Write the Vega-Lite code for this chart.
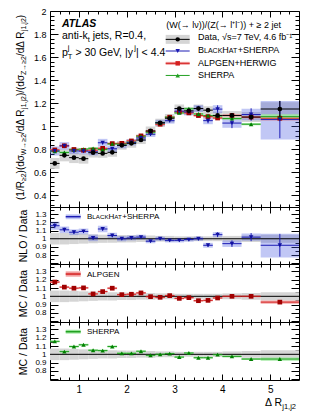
{
"$schema":"https://vega.github.io/schema/vega-lite/v6.json",
"background":"white",
"padding":{"left":15,"top":6,"right":2,"bottom":0},
"spacing":0,
"bounds":"flush",
"datasets":{"bins":[
{"x":0.5,"x0":0.4,"x1":0.6,"d":0.678,"dlo":0.631,"dhi":0.725,"del":0.666,"deh":0.690,"slo":0.93,"shi":1.07,"bh":0.786,"bhbl":0.747,"bhbh":0.825,"bhel":0.766,"bheh":0.806,"alp":0.795,"alpl":0.785,"alph":0.805,"sh":0.784,"shl":0.774,"shh":0.794,"bhr":1.16,"bhrbl":1.11,"bhrbh":1.21,"bhrel":1.13,"bhreh":1.19,"alpr":1.172,"alprl":1.160,"alprh":1.184,"shr":1.156,"shrl":1.144,"shrh":1.168},
{"x":0.7,"x0":0.6,"x1":0.8,"d":0.748,"dlo":0.696,"dhi":0.800,"del":0.736,"deh":0.760,"slo":0.93,"shi":1.07,"bh":0.830,"bhbl":0.797,"bhbh":0.863,"bhel":0.811,"bheh":0.849,"alp":0.831,"alpl":0.821,"alph":0.841,"sh":0.773,"shl":0.763,"shh":0.783,"bhr":1.11,"bhrbl":1.07,"bhrbh":1.15,"bhrel":1.085,"bhreh":1.135,"alpr":1.111,"alprl":1.099,"alprh":1.123,"shr":1.033,"shrl":1.021,"shrh":1.045},
{"x":0.9,"x0":0.8,"x1":1.0,"d":0.728,"dlo":0.681,"dhi":0.775,"del":0.716,"deh":0.740,"slo":0.935,"shi":1.065,"bh":0.786,"bhbl":0.758,"bhbh":0.814,"bhel":0.771,"bheh":0.801,"alp":0.799,"alpl":0.789,"alph":0.809,"sh":0.796,"shl":0.786,"shh":0.806,"bhr":1.08,"bhrbl":1.045,"bhrbh":1.115,"bhrel":1.06,"bhreh":1.10,"alpr":1.098,"alprl":1.086,"alprh":1.110,"shr":1.094,"shrl":1.082,"shrh":1.106},
{"x":1.1,"x0":1.0,"x1":1.2,"d":0.719,"dlo":0.676,"dhi":0.762,"del":0.707,"deh":0.731,"slo":0.94,"shi":1.06,"bh":0.784,"bhbl":0.757,"bhbh":0.811,"bhel":0.770,"bheh":0.798,"alp":0.792,"alpl":0.782,"alph":0.802,"sh":0.802,"shl":0.792,"shh":0.812,"bhr":1.09,"bhrbl":1.055,"bhrbh":1.125,"bhrel":1.07,"bhreh":1.11,"alpr":1.102,"alprl":1.090,"alprh":1.114,"shr":1.115,"shrl":1.103,"shrh":1.127},
{"x":1.3,"x0":1.2,"x1":1.4,"d":0.771,"dlo":0.729,"dhi":0.813,"del":0.759,"deh":0.783,"slo":0.945,"shi":1.055,"bh":0.779,"bhbl":0.748,"bhbh":0.810,"bhel":0.764,"bheh":0.794,"alp":0.793,"alpl":0.783,"alph":0.803,"sh":0.809,"shl":0.799,"shh":0.819,"bhr":1.01,"bhrbl":0.97,"bhrbh":1.05,"bhrel":0.99,"bhreh":1.03,"alpr":1.029,"alprl":1.017,"alprh":1.041,"shr":1.049,"shrl":1.037,"shrh":1.061},
{"x":1.5,"x0":1.4,"x1":1.6,"d":0.765,"dlo":0.727,"dhi":0.803,"del":0.753,"deh":0.777,"slo":0.95,"shi":1.05,"bh":0.857,"bhbl":0.823,"bhbh":0.891,"bhel":0.842,"bheh":0.872,"alp":0.809,"alpl":0.799,"alph":0.819,"sh":0.799,"shl":0.789,"shh":0.809,"bhr":1.12,"bhrbl":1.08,"bhrbh":1.16,"bhrel":1.10,"bhreh":1.14,"alpr":1.057,"alprl":1.045,"alprh":1.069,"shr":1.045,"shrl":1.033,"shrh":1.057},
{"x":1.7,"x0":1.6,"x1":1.8,"d":0.774,"dlo":0.735,"dhi":0.813,"del":0.762,"deh":0.786,"slo":0.95,"shi":1.05,"bh":0.805,"bhbl":0.777,"bhbh":0.833,"bhel":0.790,"bheh":0.820,"alp":0.850,"alpl":0.840,"alph":0.860,"sh":0.847,"shl":0.837,"shh":0.857,"bhr":1.04,"bhrbl":1.005,"bhrbh":1.075,"bhrel":1.02,"bhreh":1.06,"alpr":1.098,"alprl":1.086,"alprh":1.110,"shr":1.094,"shrl":1.082,"shrh":1.106},
{"x":1.9,"x0":1.8,"x1":2.0,"d":0.835,"dlo":0.797,"dhi":0.873,"del":0.823,"deh":0.847,"slo":0.955,"shi":1.045,"bh":0.835,"bhbl":0.810,"bhbh":0.860,"bhel":0.822,"bheh":0.848,"alp":0.852,"alpl":0.842,"alph":0.862,"sh":0.845,"shl":0.835,"shh":0.855,"bhr":1.0,"bhrbl":0.97,"bhrbh":1.03,"bhrel":0.985,"bhreh":1.015,"alpr":1.020,"alprl":1.008,"alprh":1.032,"shr":1.012,"shrl":1.000,"shrh":1.024},
{"x":2.1,"x0":2.0,"x1":2.2,"d":0.852,"dlo":0.814,"dhi":0.890,"del":0.840,"deh":0.864,"slo":0.955,"shi":1.045,"bh":0.861,"bhbl":0.835,"bhbh":0.887,"bhel":0.848,"bheh":0.874,"alp":0.873,"alpl":0.863,"alph":0.883,"sh":0.862,"shl":0.852,"shh":0.872,"bhr":1.01,"bhrbl":0.98,"bhrbh":1.04,"bhrel":0.995,"bhreh":1.025,"alpr":1.025,"alprl":1.013,"alprh":1.037,"shr":1.012,"shrl":1.000,"shrh":1.024},
{"x":2.3,"x0":2.2,"x1":2.4,"d":0.881,"dlo":0.846,"dhi":0.916,"del":0.869,"deh":0.893,"slo":0.96,"shi":1.04,"bh":0.899,"bhbl":0.872,"bhbh":0.926,"bhel":0.886,"bheh":0.912,"alp":0.917,"alpl":0.907,"alph":0.927,"sh":0.914,"shl":0.904,"shh":0.924,"bhr":1.02,"bhrbl":0.99,"bhrbh":1.05,"bhrel":1.005,"bhreh":1.035,"alpr":1.041,"alprl":1.029,"alprh":1.053,"shr":1.037,"shrl":1.025,"shrh":1.049},
{"x":2.5,"x0":2.4,"x1":2.6,"d":0.960,"dlo":0.922,"dhi":0.998,"del":0.948,"deh":0.972,"slo":0.96,"shi":1.04,"bh":0.931,"bhbl":0.908,"bhbh":0.954,"bhel":0.917,"bheh":0.945,"alp":0.956,"alpl":0.946,"alph":0.966,"sh":0.948,"shl":0.938,"shh":0.958,"bhr":0.97,"bhrbl":0.945,"bhrbh":0.995,"bhrel":0.955,"bhreh":0.985,"alpr":0.996,"alprl":0.984,"alprh":1.008,"shr":0.988,"shrl":0.976,"shrh":1.000},
{"x":2.7,"x0":2.6,"x1":2.8,"d":1.030,"dlo":0.994,"dhi":1.066,"del":1.018,"deh":1.042,"slo":0.965,"shi":1.035,"bh":1.030,"bhbl":1.004,"bhbh":1.056,"bhel":1.015,"bheh":1.045,"alp":1.018,"alpl":1.008,"alph":1.028,"sh":1.030,"shl":1.020,"shh":1.040,"bhr":1.0,"bhrbl":0.975,"bhrbh":1.025,"bhrel":0.985,"bhreh":1.015,"alpr":0.988,"alprl":0.976,"alprh":1.000,"shr":1.000,"shrl":0.988,"shrh":1.012},
{"x":2.9,"x0":2.8,"x1":3.0,"d":1.070,"dlo":1.033,"dhi":1.107,"del":1.058,"deh":1.082,"slo":0.965,"shi":1.035,"bh":1.049,"bhbl":1.023,"bhbh":1.075,"bhel":1.033,"bheh":1.065,"alp":1.079,"alpl":1.069,"alph":1.089,"sh":1.079,"shl":1.069,"shh":1.089,"bhr":0.98,"bhrbl":0.955,"bhrbh":1.005,"bhrel":0.965,"bhreh":0.995,"alpr":1.008,"alprl":0.996,"alprh":1.020,"shr":1.008,"shrl":0.996,"shrh":1.020},
{"x":3.1,"x0":3.0,"x1":3.2,"d":1.154,"dlo":1.119,"dhi":1.189,"del":1.142,"deh":1.166,"slo":0.97,"shi":1.03,"bh":1.131,"bhbl":1.103,"bhbh":1.159,"bhel":1.114,"bheh":1.148,"alp":1.125,"alpl":1.115,"alph":1.135,"sh":1.116,"shl":1.106,"shh":1.126,"bhr":0.98,"bhrbl":0.955,"bhrbh":1.005,"bhrel":0.965,"bhreh":0.995,"alpr":0.975,"alprl":0.963,"alprh":0.987,"shr":0.967,"shrl":0.955,"shrh":0.979},
{"x":3.3,"x0":3.2,"x1":3.4,"d":1.134,"dlo":1.100,"dhi":1.168,"del":1.121,"deh":1.147,"slo":0.97,"shi":1.03,"bh":1.123,"bhbl":1.095,"bhbh":1.151,"bhel":1.100,"bheh":1.146,"alp":1.116,"alpl":1.106,"alph":1.126,"sh":1.152,"shl":1.142,"shh":1.162,"bhr":0.99,"bhrbl":0.965,"bhrbh":1.015,"bhrel":0.97,"bhreh":1.01,"alpr":0.984,"alprl":0.972,"alprh":0.996,"shr":1.016,"shrl":1.004,"shrh":1.028},
{"x":3.5,"x0":3.4,"x1":3.6,"d":1.154,"dlo":1.119,"dhi":1.189,"del":1.141,"deh":1.167,"slo":0.97,"shi":1.03,"bh":1.154,"bhbl":1.125,"bhbh":1.183,"bhel":1.131,"bheh":1.177,"alp":1.093,"alpl":1.083,"alph":1.103,"sh":1.107,"shl":1.097,"shh":1.117,"bhr":1.0,"bhrbl":0.975,"bhrbh":1.025,"bhrel":0.98,"bhreh":1.02,"alpr":0.947,"alprl":0.935,"alprh":0.959,"shr":0.959,"shrl":0.947,"shrh":0.971},
{"x":3.7,"x0":3.6,"x1":3.8,"d":1.140,"dlo":1.106,"dhi":1.174,"del":1.126,"deh":1.154,"slo":0.97,"shi":1.03,"bh":1.049,"bhbl":1.018,"bhbh":1.080,"bhel":1.026,"bheh":1.072,"alp":1.084,"alpl":1.074,"alph":1.094,"sh":1.093,"shl":1.083,"shh":1.103,"bhr":0.92,"bhrbl":0.89,"bhrbh":0.95,"bhrel":0.90,"bhreh":0.94,"alpr":0.951,"alprl":0.939,"alprh":0.963,"shr":0.959,"shrl":0.947,"shrh":0.971},
{"x":3.9,"x0":3.8,"x1":4.0,"d":1.094,"dlo":1.061,"dhi":1.127,"del":1.079,"deh":1.109,"slo":0.97,"shi":1.03,"bh":1.149,"bhbl":1.115,"bhbh":1.183,"bhel":1.116,"bheh":1.182,"alp":1.072,"alpl":1.062,"alph":1.082,"sh":1.090,"shl":1.080,"shh":1.100,"bhr":1.05,"bhrbl":1.02,"bhrbh":1.08,"bhrel":1.02,"bhreh":1.08,"alpr":0.980,"alprl":0.968,"alprh":0.992,"shr":0.996,"shrl":0.984,"shrh":1.008},
{"x":4.2,"x0":4.0,"x1":4.4,"d":1.094,"dlo":1.056,"dhi":1.132,"del":1.079,"deh":1.109,"slo":0.965,"shi":1.035,"bh":1.028,"bhbl":0.987,"bhbh":1.069,"bhel":0.984,"bheh":1.072,"alp":1.094,"alpl":1.084,"alph":1.104,"sh":1.067,"shl":1.057,"shh":1.077,"bhr":0.94,"bhrbl":0.90,"bhrbh":0.98,"bhrel":0.90,"bhreh":0.98,"alpr":1.000,"alprl":0.988,"alprh":1.012,"shr":0.975,"shrl":0.963,"shrh":0.987},
{"x":4.6,"x0":4.4,"x1":4.8,"d":1.080,"dlo":1.037,"dhi":1.123,"del":1.060,"deh":1.100,"slo":0.96,"shi":1.04,"bh":1.102,"bhbl":1.052,"bhbh":1.152,"bhel":1.048,"bheh":1.156,"alp":1.080,"alpl":1.070,"alph":1.090,"sh":1.018,"shl":1.008,"shh":1.028,"bhr":1.02,"bhrbl":0.975,"bhrbh":1.065,"bhrel":0.97,"bhreh":1.07,"alpr":1.000,"alprl":0.988,"alprh":1.012,"shr":0.943,"shrl":0.931,"shrh":0.955},
{"x":5.2,"x0":4.8,"x1":5.6,"d":1.150,"dlo":1.093,"dhi":1.208,"del":1.080,"deh":1.220,"slo":0.95,"shi":1.05,"bh":1.058,"bhbl":0.885,"bhbh":1.219,"bhel":0.897,"bheh":1.219,"alp":1.070,"alpl":1.050,"alph":1.090,"sh":1.084,"shl":1.064,"shh":1.104,"bhr":0.92,"bhrbl":0.77,"bhrbh":1.06,"bhrel":0.78,"bhreh":1.06,"alpr":0.930,"alprl":0.910,"alprh":0.950,"shr":0.943,"shrl":0.923,"shrh":0.963}
]},
"data":{"name":"bins"},
"config":{
 "view":{"stroke":"black","strokeWidth":1},
 "axis":{"grid":false,"domain":false,"tickColor":"black","tickWidth":1,"labelColor":"black","labelFont":"Liberation Sans","labelFontSize":9,"titleFont":"Liberation Sans","titleColor":"black","titleFontWeight":"normal","labelOverlap":false,"labelFlush":false,"zindex":1},
 "text":{"font":"Liberation Sans","align":"left","baseline":"alphabetic","color":"black"}
},
"vconcat":[
{
 "width":249,"height":196,
 "layer":[
  {"mark":{"type":"rect","fill":"#d5d5d5"},
   "encoding":{"x":{"field":"x0","type":"quantitative","scale":{"domain":[0.4,5.6],"nice":false,"zero":false},"axis":{"orient":"bottom","values":[1,2,3,4,5],"labels":false,"tickSize":-6,"title":null}},"x2":{"field":"x1"},
   "y":{"field":"dlo","type":"quantitative","scale":{"domain":[0.3,2],"nice":false,"zero":false},"axis":{"orient":"left","values":[0.4,0.6,0.8,1,1.2,1.4,1.6,1.8,2],"labels":false,"tickSize":-8,"title":null}},"y2":{"field":"dhi"}}},
  {"mark":{"type":"rect","fill":"#4455e0","fillOpacity":0.33},
   "encoding":{"x":{"field":"x0","type":"quantitative","scale":{"domain":[0.4,5.6],"nice":false,"zero":false},"axis":{"orient":"bottom","values":[0.6,0.8,1.2,1.4,1.6,1.8,2.2,2.4,2.6,2.8,3.2,3.4,3.6,3.8,4.2,4.4,4.6,4.8,5.2,5.4],"labels":false,"tickSize":-3,"title":null}},"x2":{"field":"x1"},
   "y":{"field":"bhbl","type":"quantitative","scale":{"domain":[0.3,2],"nice":false,"zero":false},"axis":{"orient":"left","values":[0.4,0.6,0.8,1,1.2,1.4,1.6,1.8,2],"format":".1~f","ticks":false,"labelPadding":4,"title":null}},"y2":{"field":"bhbh"}}},
  {"mark":{"type":"rect","fill":"#f2a0a0","opacity":0.9},
   "encoding":{"x":{"field":"x0","type":"quantitative","scale":{"domain":[0.4,5.6],"nice":false,"zero":false},"axis":{"orient":"top","values":[1,2,3,4,5],"labels":false,"tickSize":-6,"title":null}},"x2":{"field":"x1"},
   "y":{"field":"alpl","type":"quantitative","scale":{"domain":[0.3,2],"nice":false,"zero":false},"axis":{"orient":"left","values":[0.32,0.36,0.44,0.48,0.52,0.56,0.64,0.68,0.72,0.76,0.84,0.88,0.92,0.96,1.04,1.08,1.12,1.16,1.24,1.28,1.32,1.36,1.44,1.48,1.52,1.56,1.64,1.68,1.72,1.76,1.84,1.88,1.92,1.96],"labels":false,"tickSize":-4,"title":null}},"y2":{"field":"alph"}}},
  {"mark":{"type":"rect","fill":"#9fe79f","opacity":0.9},
   "encoding":{"x":{"field":"x0","type":"quantitative","scale":{"domain":[0.4,5.6],"nice":false,"zero":false},"axis":{"orient":"top","values":[0.6,0.8,1.2,1.4,1.6,1.8,2.2,2.4,2.6,2.8,3.2,3.4,3.6,3.8,4.2,4.4,4.6,4.8,5.2,5.4],"labels":false,"tickSize":-3,"title":null}},"x2":{"field":"x1"},
   "y":{"field":"shl","type":"quantitative","scale":{"domain":[0.3,2],"nice":false,"zero":false},"axis":{"orient":"right","values":[0.4,0.6,0.8,1,1.2,1.4,1.6,1.8,2],"labels":false,"tickSize":-8,"title":null}},"y2":{"field":"shh"}}},
  {"mark":{"type":"rule","color":"#d42020","strokeWidth":1},
   "encoding":{"x":{"field":"x0","type":"quantitative","axis":null},"x2":{"field":"x1"},
   "y":{"field":"alp","type":"quantitative","axis":{"orient":"right","values":[0.32,0.36,0.44,0.48,0.52,0.56,0.64,0.68,0.72,0.76,0.84,0.88,0.92,0.96,1.04,1.08,1.12,1.16,1.24,1.28,1.32,1.36,1.44,1.48,1.52,1.56,1.64,1.68,1.72,1.76,1.84,1.88,1.92,1.96],"labels":false,"tickSize":-4,"title":null}}}},
  {"mark":{"type":"rule","color":"#22a022","strokeWidth":1},
   "encoding":{"x":{"field":"x0","type":"quantitative","axis":null},"x2":{"field":"x1"},"y":{"field":"sh","type":"quantitative","axis":null}}},
  {"mark":{"type":"rule","color":"#1c1cb4","strokeWidth":1},
   "encoding":{"x":{"field":"x0","type":"quantitative","axis":null},"x2":{"field":"x1"},"y":{"field":"bh","type":"quantitative","axis":null}}},
  {"mark":{"type":"rule","color":"#1c1cb4","strokeWidth":1},
   "encoding":{"x":{"field":"x","type":"quantitative","axis":null},"y":{"field":"bhel","type":"quantitative","axis":null},"y2":{"field":"bheh"}}},
  {"mark":{"type":"point","shape":"square","filled":true,"color":"#a00000","size":22,"opacity":1},
   "encoding":{"x":{"field":"x","type":"quantitative","axis":null},"y":{"field":"alp","type":"quantitative","axis":null}}},
  {"mark":{"type":"point","shape":"triangle-up","filled":true,"color":"#008000","size":20,"opacity":1},
   "encoding":{"x":{"field":"x","type":"quantitative","axis":null},"y":{"field":"sh","type":"quantitative","axis":null}}},
  {"mark":{"type":"point","shape":"triangle-down","filled":true,"color":"#1010a0","size":20,"opacity":1},
   "encoding":{"x":{"field":"x","type":"quantitative","axis":null},"y":{"field":"bh","type":"quantitative","axis":null}}},
  {"mark":{"type":"rule","color":"black","strokeWidth":1},
   "encoding":{"x":{"field":"x0","type":"quantitative","axis":null},"x2":{"field":"x1"},"y":{"field":"d","type":"quantitative","axis":null}}},
  {"mark":{"type":"rule","color":"black","strokeWidth":1},
   "encoding":{"x":{"field":"x","type":"quantitative","axis":null},"y":{"field":"del","type":"quantitative","axis":null},"y2":{"field":"deh"}}},
  {"mark":{"type":"point","shape":"circle","filled":true,"color":"black","size":22,"opacity":1},
   "encoding":{"x":{"field":"x","type":"quantitative","axis":null},"y":{"field":"d","type":"quantitative","axis":null}}},
  {"data":{"values":[{"a":2.816,"b":3.317,"lo":1.715,"hi":1.793}]},
   "mark":{"type":"rect","fill":"#d5d5d5"},
   "encoding":{"x":{"field":"a","type":"quantitative","axis":null},"x2":{"field":"b"},"y":{"field":"lo","type":"quantitative","axis":null},"y2":{"field":"hi"}}},
  {"data":{"values":[{"a":2.816,"b":3.317,"lo":1.533,"hi":1.559}]},
   "mark":{"type":"rect","fill":"#f2a0a0"},
   "encoding":{"x":{"field":"a","type":"quantitative","axis":null},"x2":{"field":"b"},"y":{"field":"lo","type":"quantitative","axis":null},"y2":{"field":"hi"}}},
  {"data":{"values":[{"a":2.816,"b":3.317,"y":1.754,"s":"data"},{"a":2.816,"b":3.317,"y":1.653,"s":"bh"},{"a":2.816,"b":3.317,"y":1.546,"s":"alp"},{"a":2.816,"b":3.317,"y":1.441,"s":"sh"}]},
   "mark":{"type":"rule","strokeWidth":1},
   "encoding":{"x":{"field":"a","type":"quantitative","axis":null},"x2":{"field":"b"},"y":{"field":"y","type":"quantitative","axis":null},
   "color":{"field":"s","type":"nominal","scale":{"domain":["data","bh","alp","sh"],"range":["black","#1c1cb4","#d42020","#22a022"]},"legend":null}}},
  {"data":{"values":[{"x":3.067,"y":1.754,"s":"data"},{"x":3.067,"y":1.653,"s":"bh"},{"x":3.067,"y":1.546,"s":"alp"},{"x":3.067,"y":1.441,"s":"sh"}]},
   "mark":{"type":"point","filled":true,"size":20,"opacity":1},
   "encoding":{"x":{"field":"x","type":"quantitative","axis":null},"y":{"field":"y","type":"quantitative","axis":null},
   "color":{"field":"s","type":"nominal","scale":{"domain":["data","bh","alp","sh"],"range":["black","#1010a0","#a00000","#008000"]},"legend":null},
   "shape":{"field":"s","type":"nominal","scale":{"domain":["data","bh","alp","sh"],"range":["circle","triangle-down","square","triangle-up"]},"legend":null}}},
  {"data":{"values":[{"x":2.829,"y":1.850,"t":"(W(→ lν))/(Z(→ l⁺l⁻)) + ≥ 2 jet"},{"x":3.491,"y":1.748,"t":"Data, √s=7 TeV, 4.6 fb⁻¹"},{"x":3.491,"y":1.637,"t":"B"},{"x":3.9981,"y":1.637,"t":"H"},{"x":4.3207,"y":1.637,"t":"+SHERPA"},{"x":3.491,"y":1.525,"t":"ALPGEN+HERWIG"},{"x":3.491,"y":1.416,"t":"SHERPA"}]},
   "mark":{"type":"text","fontSize":9},
   "encoding":{"x":{"field":"x","type":"quantitative","axis":null},"y":{"field":"y","type":"quantitative","axis":null},"text":{"field":"t"}}},
  {"data":{"values":[{"x":3.6163,"y":1.637,"t":"LACK"},{"x":4.1338,"y":1.637,"t":"AT"}]},
   "mark":{"type":"text","fontSize":7},
   "encoding":{"x":{"field":"x","type":"quantitative","axis":null},"y":{"field":"y","type":"quantitative","axis":null},"text":{"field":"t"}}},
  {"data":{"values":[{"x":0.651,"y":1.861,"t":"ATLAS"}]},
   "mark":{"type":"text","fontSize":10.5,"fontStyle":"italic","fontWeight":"bold"},
   "encoding":{"x":{"field":"x","type":"quantitative","axis":null},"y":{"field":"y","type":"quantitative","axis":null},"text":{"field":"t"}}},
  {"data":{"values":[{"x":0.651,"y":1.753,"t":"anti-k"},{"x":1.2915,"y":1.753,"t":"jets, R=0.4,"},{"x":0.651,"y":1.61,"t":"p"},{"x":0.930,"y":1.61,"t":"> 30 GeV, |y"},{"x":2.195,"y":1.61,"t":"| < 4.4"}]},
   "mark":{"type":"text","fontSize":10.5},
   "encoding":{"x":{"field":"x","type":"quantitative","axis":null},"y":{"field":"y","type":"quantitative","axis":null},"text":{"field":"t"}}},
  {"data":{"values":[{"x":1.187,"y":1.731,"t":"t"},{"x":0.773,"y":1.658,"t":"j"},{"x":0.773,"y":1.582,"t":"T"},{"x":2.16,"y":1.658,"t":"j"}]},
   "mark":{"type":"text","fontSize":7.5},
   "encoding":{"x":{"field":"x","type":"quantitative","axis":null},"y":{"field":"y","type":"quantitative","axis":null},"text":{"field":"t"}}},
  {"data":{"values":[{"x":-0.143,"y":0.361,"t":"(1/R"},{"x":-0.143,"y":0.591,"t":")(dσ"},{"x":-0.143,"y":0.934,"t":"/dΔ R"},{"x":-0.143,"y":1.262,"t":")/(dσ"},{"x":-0.143,"y":1.609,"t":"/dΔ R"},{"x":-0.143,"y":1.937,"t":")"}]},
   "mark":{"type":"text","fontSize":10,"angle":270},
   "encoding":{"x":{"field":"x","type":"quantitative","axis":null},"y":{"field":"y","type":"quantitative","axis":null},"text":{"field":"t"}}},
  {"data":{"values":[{"x":-0.091,"y":0.525,"t":"≥2"},{"x":-0.091,"y":0.749,"t":"W→≥2"},{"x":-0.091,"y":1.151,"t":"j1,j2"},{"x":-0.091,"y":1.444,"t":"Z→≥2"},{"x":-0.091,"y":1.826,"t":"j1,j2"}]},
   "mark":{"type":"text","fontSize":7,"angle":270},
   "encoding":{"x":{"field":"x","type":"quantitative","axis":null},"y":{"field":"y","type":"quantitative","axis":null},"text":{"field":"t"}}}
 ],
 "resolve":{"axis":{"x":"independent","y":"independent"}}
},
{
 "width":249,"height":57,
 "layer":[
  {"mark":{"type":"rect","fill":"#d5d5d5"},
   "encoding":{"x":{"field":"x0","type":"quantitative","scale":{"domain":[0.4,5.6],"nice":false,"zero":false},"axis":{"orient":"bottom","values":[1,2,3,4,5],"labels":false,"tickSize":-6,"title":null}},"x2":{"field":"x1"},
   "y":{"field":"slo","type":"quantitative","scale":{"domain":[0.69,1.39],"nice":false,"zero":false},"axis":{"orient":"left","values":[0.7,0.8,0.9,1,1.1,1.2,1.3],"labels":false,"tickSize":-8,"title":null}},"y2":{"field":"shi"}}},
  {"mark":{"type":"rect","fill":"#4455e0","fillOpacity":0.33},
   "encoding":{"x":{"field":"x0","type":"quantitative","scale":{"domain":[0.4,5.6],"nice":false,"zero":false},"axis":{"orient":"bottom","values":[0.6,0.8,1.2,1.4,1.6,1.8,2.2,2.4,2.6,2.8,3.2,3.4,3.6,3.8,4.2,4.4,4.6,4.8,5.2,5.4],"labels":false,"tickSize":-3,"title":null}},"x2":{"field":"x1"},
   "y":{"field":"bhrbl","type":"quantitative","scale":{"domain":[0.69,1.39],"nice":false,"zero":false},"axis":{"orient":"left","values":[0.8,0.9,1,1.1,1.2,1.3],"format":".1~f","ticks":false,"labelPadding":4,"labelFontSize":8,"title":"NLO / Data","titleFontSize":10.5,"titlePadding":6}},"y2":{"field":"bhrbh"}}},
  {"data":{"values":[{}]},
   "mark":{"type":"rule","color":"black","strokeWidth":1},
   "encoding":{"y":{"datum":1,"type":"quantitative","scale":{"domain":[0.69,1.39],"nice":false,"zero":false},"axis":{"orient":"left","values":[0.75,0.85,0.95,1.05,1.15,1.25,1.35],"labels":false,"tickSize":-4,"title":null}}}},
  {"mark":{"type":"rule","color":"#1c1cb4","strokeWidth":1},
   "encoding":{"x":{"field":"x0","type":"quantitative","scale":{"domain":[0.4,5.6],"nice":false,"zero":false},"axis":{"orient":"top","values":[1,2,3,4,5],"labels":false,"tickSize":-6,"title":null}},"x2":{"field":"x1"},
   "y":{"field":"bhr","type":"quantitative","scale":{"domain":[0.69,1.39],"nice":false,"zero":false},"axis":{"orient":"right","values":[0.7,0.8,0.9,1,1.1,1.2,1.3],"labels":false,"tickSize":-8,"title":null}}}},
  {"mark":{"type":"rule","color":"#1c1cb4","strokeWidth":1},
   "encoding":{"x":{"field":"x","type":"quantitative","scale":{"domain":[0.4,5.6],"nice":false,"zero":false},"axis":{"orient":"top","values":[0.6,0.8,1.2,1.4,1.6,1.8,2.2,2.4,2.6,2.8,3.2,3.4,3.6,3.8,4.2,4.4,4.6,4.8,5.2,5.4],"labels":false,"tickSize":-3,"title":null}},
   "y":{"field":"bhrel","type":"quantitative","scale":{"domain":[0.69,1.39],"nice":false,"zero":false},"axis":{"orient":"right","values":[0.75,0.85,0.95,1.05,1.15,1.25,1.35],"labels":false,"tickSize":-4,"title":null}},"y2":{"field":"bhreh"}}},
  {"mark":{"type":"point","shape":"triangle-down","filled":true,"color":"#1010a0","size":20,"opacity":1},
   "encoding":{"x":{"field":"x","type":"quantitative","axis":null},"y":{"field":"bhr","type":"quantitative","axis":null}}},
  {"data":{"values":[{"a":0.728,"b":1.041,"lo":1.24,"hi":1.30}]},
   "mark":{"type":"rect","fill":"#4455e0","fillOpacity":0.33},
   "encoding":{"x":{"field":"a","type":"quantitative","axis":null},"x2":{"field":"b"},"y":{"field":"lo","type":"quantitative","axis":null},"y2":{"field":"hi"}}},
  {"data":{"values":[{"a":0.728,"b":1.041,"y":1.271}]},
   "mark":{"type":"rule","color":"#1c1cb4","strokeWidth":1.5},
   "encoding":{"x":{"field":"a","type":"quantitative","axis":null},"x2":{"field":"b"},"y":{"field":"y","type":"quantitative","axis":null}}},
  {"data":{"values":[{"x":1.173,"y":1.243,"t":"B"},{"x":1.6226,"y":1.243,"t":"H"},{"x":1.9087,"y":1.243,"t":"+SHERPA"}]},
   "mark":{"type":"text","fontSize":8},
   "encoding":{"x":{"field":"x","type":"quantitative","axis":null},"y":{"field":"y","type":"quantitative","axis":null},"text":{"field":"t"}}},
  {"data":{"values":[{"x":1.2845,"y":1.243,"t":"LACK"},{"x":1.7432,"y":1.243,"t":"AT"}]},
   "mark":{"type":"text","fontSize":6.2},
   "encoding":{"x":{"field":"x","type":"quantitative","axis":null},"y":{"field":"y","type":"quantitative","axis":null},"text":{"field":"t"}}}
 ],
 "resolve":{"axis":{"x":"independent","y":"independent"}}
},
{
 "width":249,"height":58,
 "layer":[
  {"mark":{"type":"rect","fill":"#d5d5d5"},
   "encoding":{"x":{"field":"x0","type":"quantitative","scale":{"domain":[0.4,5.6],"nice":false,"zero":false},"axis":{"orient":"bottom","values":[1,2,3,4,5],"labels":false,"tickSize":-6,"title":null}},"x2":{"field":"x1"},
   "y":{"field":"slo","type":"quantitative","scale":{"domain":[0.69,1.39],"nice":false,"zero":false},"axis":{"orient":"left","values":[0.7,0.8,0.9,1,1.1,1.2,1.3],"labels":false,"tickSize":-8,"title":null}},"y2":{"field":"shi"}}},
  {"mark":{"type":"rect","fill":"#f2a0a0","opacity":0.9},
   "encoding":{"x":{"field":"x0","type":"quantitative","scale":{"domain":[0.4,5.6],"nice":false,"zero":false},"axis":{"orient":"bottom","values":[0.6,0.8,1.2,1.4,1.6,1.8,2.2,2.4,2.6,2.8,3.2,3.4,3.6,3.8,4.2,4.4,4.6,4.8,5.2,5.4],"labels":false,"tickSize":-3,"title":null}},"x2":{"field":"x1"},
   "y":{"field":"alprl","type":"quantitative","scale":{"domain":[0.69,1.39],"nice":false,"zero":false},"axis":{"orient":"left","values":[0.8,0.9,1,1.1,1.2,1.3],"format":".1~f","ticks":false,"labelPadding":4,"labelFontSize":8,"title":"MC / Data","titleFontSize":10.5,"titlePadding":6}},"y2":{"field":"alprh"}}},
  {"data":{"values":[{}]},
   "mark":{"type":"rule","color":"black","strokeWidth":1},
   "encoding":{"y":{"datum":1,"type":"quantitative","scale":{"domain":[0.69,1.39],"nice":false,"zero":false},"axis":{"orient":"left","values":[0.75,0.85,0.95,1.05,1.15,1.25,1.35],"labels":false,"tickSize":-4,"title":null}}}},
  {"mark":{"type":"rule","color":"#d42020","strokeWidth":1},
   "encoding":{"x":{"field":"x0","type":"quantitative","scale":{"domain":[0.4,5.6],"nice":false,"zero":false},"axis":{"orient":"top","values":[1,2,3,4,5],"labels":false,"tickSize":-6,"title":null}},"x2":{"field":"x1"},
   "y":{"field":"alpr","type":"quantitative","scale":{"domain":[0.69,1.39],"nice":false,"zero":false},"axis":{"orient":"right","values":[0.7,0.8,0.9,1,1.1,1.2,1.3],"labels":false,"tickSize":-8,"title":null}}}},
  {"mark":{"type":"point","shape":"square","filled":true,"color":"#a00000","size":22,"opacity":1},
   "encoding":{"x":{"field":"x","type":"quantitative","scale":{"domain":[0.4,5.6],"nice":false,"zero":false},"axis":{"orient":"top","values":[0.6,0.8,1.2,1.4,1.6,1.8,2.2,2.4,2.6,2.8,3.2,3.4,3.6,3.8,4.2,4.4,4.6,4.8,5.2,5.4],"labels":false,"tickSize":-3,"title":null}},
   "y":{"field":"alpr","type":"quantitative","scale":{"domain":[0.69,1.39],"nice":false,"zero":false},"axis":{"orient":"right","values":[0.75,0.85,0.95,1.05,1.15,1.25,1.35],"labels":false,"tickSize":-4,"title":null}}}},
  {"data":{"values":[{"a":0.728,"b":1.041,"lo":1.237,"hi":1.301}]},
   "mark":{"type":"rect","fill":"#f2a0a0"},
   "encoding":{"x":{"field":"a","type":"quantitative","axis":null},"x2":{"field":"b"},"y":{"field":"lo","type":"quantitative","axis":null},"y2":{"field":"hi"}}},
  {"data":{"values":[{"a":0.728,"b":1.041,"y":1.269}]},
   "mark":{"type":"rule","color":"#d42020","strokeWidth":1.5},
   "encoding":{"x":{"field":"a","type":"quantitative","axis":null},"x2":{"field":"b"},"y":{"field":"y","type":"quantitative","axis":null}}},
  {"data":{"values":[{"x":1.173,"y":1.237,"t":"ALPGEN"}]},
   "mark":{"type":"text","fontSize":8},
   "encoding":{"x":{"field":"x","type":"quantitative","axis":null},"y":{"field":"y","type":"quantitative","axis":null},"text":{"field":"t"}}}
 ],
 "resolve":{"axis":{"x":"independent","y":"independent"}}
},
{
 "width":249,"height":58,
 "layer":[
  {"mark":{"type":"rect","fill":"#d5d5d5"},
   "encoding":{"x":{"field":"x0","type":"quantitative","scale":{"domain":[0.4,5.6],"nice":false,"zero":false},"axis":{"orient":"bottom","values":[1,2,3,4,5],"labels":false,"tickSize":-6,"title":null}},"x2":{"field":"x1"},
   "y":{"field":"slo","type":"quantitative","scale":{"domain":[0.69,1.39],"nice":false,"zero":false},"axis":{"orient":"left","values":[0.7,0.8,0.9,1,1.1,1.2,1.3],"labels":false,"tickSize":-8,"title":null}},"y2":{"field":"shi"}}},
  {"mark":{"type":"rect","fill":"#9fe79f","opacity":0.9},
   "encoding":{"x":{"field":"x0","type":"quantitative","scale":{"domain":[0.4,5.6],"nice":false,"zero":false},"axis":{"orient":"bottom","values":[0.6,0.8,1.2,1.4,1.6,1.8,2.2,2.4,2.6,2.8,3.2,3.4,3.6,3.8,4.2,4.4,4.6,4.8,5.2,5.4],"labels":false,"tickSize":-3,"title":null}},"x2":{"field":"x1"},
   "y":{"field":"shrl","type":"quantitative","scale":{"domain":[0.69,1.39],"nice":false,"zero":false},"axis":{"orient":"left","values":[0.8,0.9,1,1.1,1.2,1.3],"format":".1~f","ticks":false,"labelPadding":4,"labelFontSize":8,"title":"MC / Data","titleFontSize":10.5,"titlePadding":6}},"y2":{"field":"shrh"}}},
  {"data":{"values":[{}]},
   "mark":{"type":"rule","color":"black","strokeWidth":1},
   "encoding":{"y":{"datum":1,"type":"quantitative","scale":{"domain":[0.69,1.39],"nice":false,"zero":false},"axis":{"orient":"left","values":[0.75,0.85,0.95,1.05,1.15,1.25,1.35],"labels":false,"tickSize":-4,"title":null}}}},
  {"mark":{"type":"rule","color":"#22a022","strokeWidth":1},
   "encoding":{"x":{"field":"x0","type":"quantitative","scale":{"domain":[0.4,5.6],"nice":false,"zero":false},"axis":{"orient":"top","values":[1,2,3,4,5],"labels":false,"tickSize":-6,"title":null}},"x2":{"field":"x1"},
   "y":{"field":"shr","type":"quantitative","scale":{"domain":[0.69,1.39],"nice":false,"zero":false},"axis":{"orient":"right","values":[0.7,0.8,0.9,1,1.1,1.2,1.3],"labels":false,"tickSize":-8,"title":null}}}},
  {"mark":{"type":"point","shape":"triangle-up","filled":true,"color":"#008000","size":20,"opacity":1},
   "encoding":{"x":{"field":"x","type":"quantitative","scale":{"domain":[0.4,5.6],"nice":false,"zero":false},"axis":{"orient":"top","values":[0.6,0.8,1.2,1.4,1.6,1.8,2.2,2.4,2.6,2.8,3.2,3.4,3.6,3.8,4.2,4.4,4.6,4.8,5.2,5.4],"labels":false,"tickSize":-3,"title":null}},
   "y":{"field":"shr","type":"quantitative","scale":{"domain":[0.69,1.39],"nice":false,"zero":false},"axis":{"orient":"right","values":[0.75,0.85,0.95,1.05,1.15,1.25,1.35],"labels":false,"tickSize":-4,"title":null}}}},
  {"data":{"values":[{"a":0.728,"b":1.041,"lo":1.25,"hi":1.296}]},
   "mark":{"type":"rect","fill":"#9fe79f"},
   "encoding":{"x":{"field":"a","type":"quantitative","scale":{"domain":[0.4,5.6],"nice":false,"zero":false},"axis":{"orient":"bottom","values":[1,2,3,4,5],"format":"d","ticks":false,"labelPadding":4,"labelFontSize":10,"title":null}},"x2":{"field":"b"},"y":{"field":"lo","type":"quantitative","axis":null},"y2":{"field":"hi"}}},
  {"data":{"values":[{"a":0.728,"b":1.041,"y":1.273}]},
   "mark":{"type":"rule","color":"#22a022","strokeWidth":1.5},
   "encoding":{"x":{"field":"a","type":"quantitative","axis":null},"x2":{"field":"b"},"y":{"field":"y","type":"quantitative","axis":null}}},
  {"data":{"values":[{"x":1.173,"y":1.241,"t":"SHERPA"}]},
   "mark":{"type":"text","fontSize":8},
   "encoding":{"x":{"field":"x","type":"quantitative","axis":null},"y":{"field":"y","type":"quantitative","axis":null},"text":{"field":"t"}}},
  {"data":{"values":[{"x":5.245,"y":0.376,"t":"Δ R"}]},
   "mark":{"type":"text","fontSize":10.5,"align":"right"},
   "encoding":{"x":{"field":"x","type":"quantitative","axis":null},"y":{"field":"y","type":"quantitative","axis":null},"text":{"field":"t"}}},
  {"data":{"values":[{"x":5.25,"y":0.334,"t":"j1,j2"}]},
   "mark":{"type":"text","fontSize":7.5},
   "encoding":{"x":{"field":"x","type":"quantitative","axis":null},"y":{"field":"y","type":"quantitative","axis":null},"text":{"field":"t"}}}
 ],
 "resolve":{"axis":{"x":"independent","y":"independent"}}
}
]
}
